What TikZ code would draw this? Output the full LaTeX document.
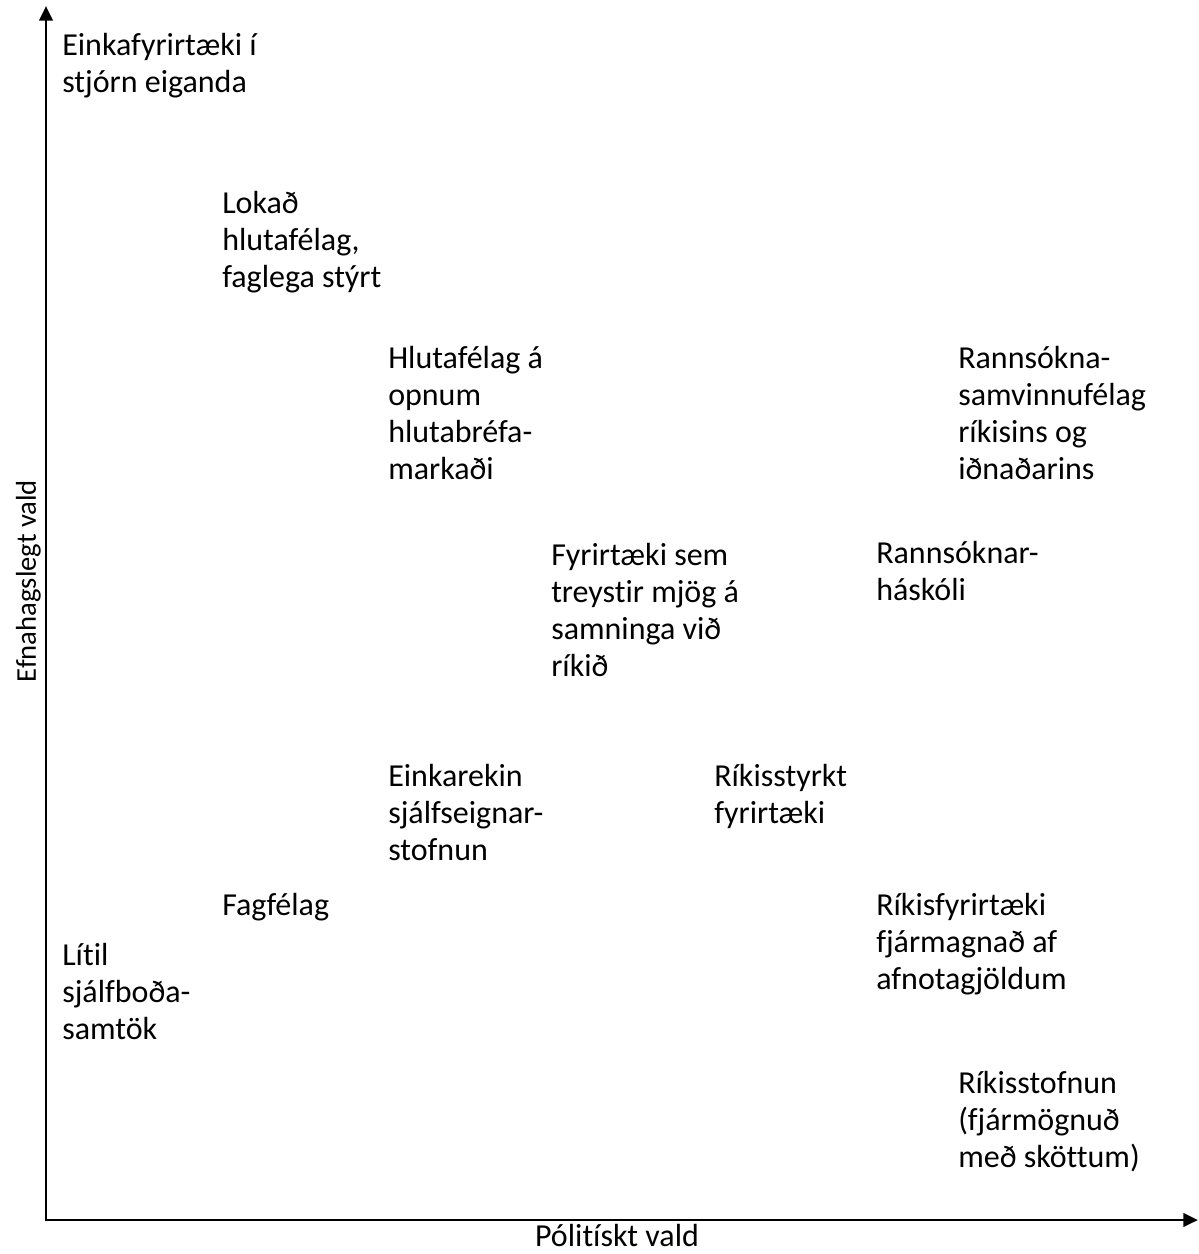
\documentclass[tikz,border=0pt]{standalone}
\usepackage{fontspec}
\setmainfont[Ligatures=NoCommon]{Carlito}
\usetikzlibrary{arrows.meta}
\tikzset{
  % base anchor of a multi-line node sits on its last line
  lbl/.style={anchor=base west, align=left, inner sep=0pt,
    font=\fontsize{24}{27.75}\selectfont},
  axis/.style={line width=2.2pt, -{Triangle[length=11pt,width=10pt]}}
}
\begin{document}
\begin{tikzpicture}[x=0.75pt, y=-0.75pt]
    \useasboundingbox (0,0) rectangle (1199,1254);

    % Axes
    \coordinate (origin) at (46,1220);
    \coordinate (ytop) at (46,6);
    \coordinate (xend) at (1198,1220);
    \draw[axis] ([yshift=-1.1pt]origin) -- (ytop);
    \draw[axis] ([xshift=-1.1pt]origin) -- (xend);
    \node[lbl, anchor=base] (xlab) at (617,1246) {Pólitískt vald};
    \node[lbl, anchor=base, rotate=90, font=\fontsize{21.5}{26}\selectfont]
      (ylab) at (36,581) {Efnahagslegt vald};

    % Organisation types
    \node[lbl] (einka) at (62,92) {Einkafyrirtæki í\\stjórn eiganda};
    \node[lbl] (lokad) at (222,287) {Lokað\\hlutafélag,\\faglega stýrt};
    \node[lbl] (opid) at (388,479) {Hlutafélag á\\opnum\\hlutabréfa-\\markaði};
    \node[lbl] (samvinna) at (958,479) {Rannsókna-\\samvinnufélag\\ríkisins og\\iðnaðarins};
    \node[lbl] (samningar) at (551,676) {Fyrirtæki sem\\treystir mjög á\\samninga við\\ríkið};
    \node[lbl] (haskoli) at (876,600) {Rannsóknar-\\háskóli};
    \node[lbl] (sjalfseign) at (388,860) {Einkarekin\\sjálfseignar-\\stofnun};
    \node[lbl] (styrkt) at (714,823) {Ríkisstyrkt\\fyrirtæki};
    \node[lbl] (fagfelag) at (222,915) {Fagfélag};
    \node[lbl] (rikisfyr) at (876,989) {Ríkisfyrirtæki\\fjármagnað af\\afnotagjöldum};
    \node[lbl] (sjalfbod) at (62,1039) {Lítil\\sjálfboða-\\samtök};
    \node[lbl] (stofnun) at (958,1167) {Ríkisstofnun\\(fjármögnuð\\með sköttum)};
\end{tikzpicture}
\end{document}
